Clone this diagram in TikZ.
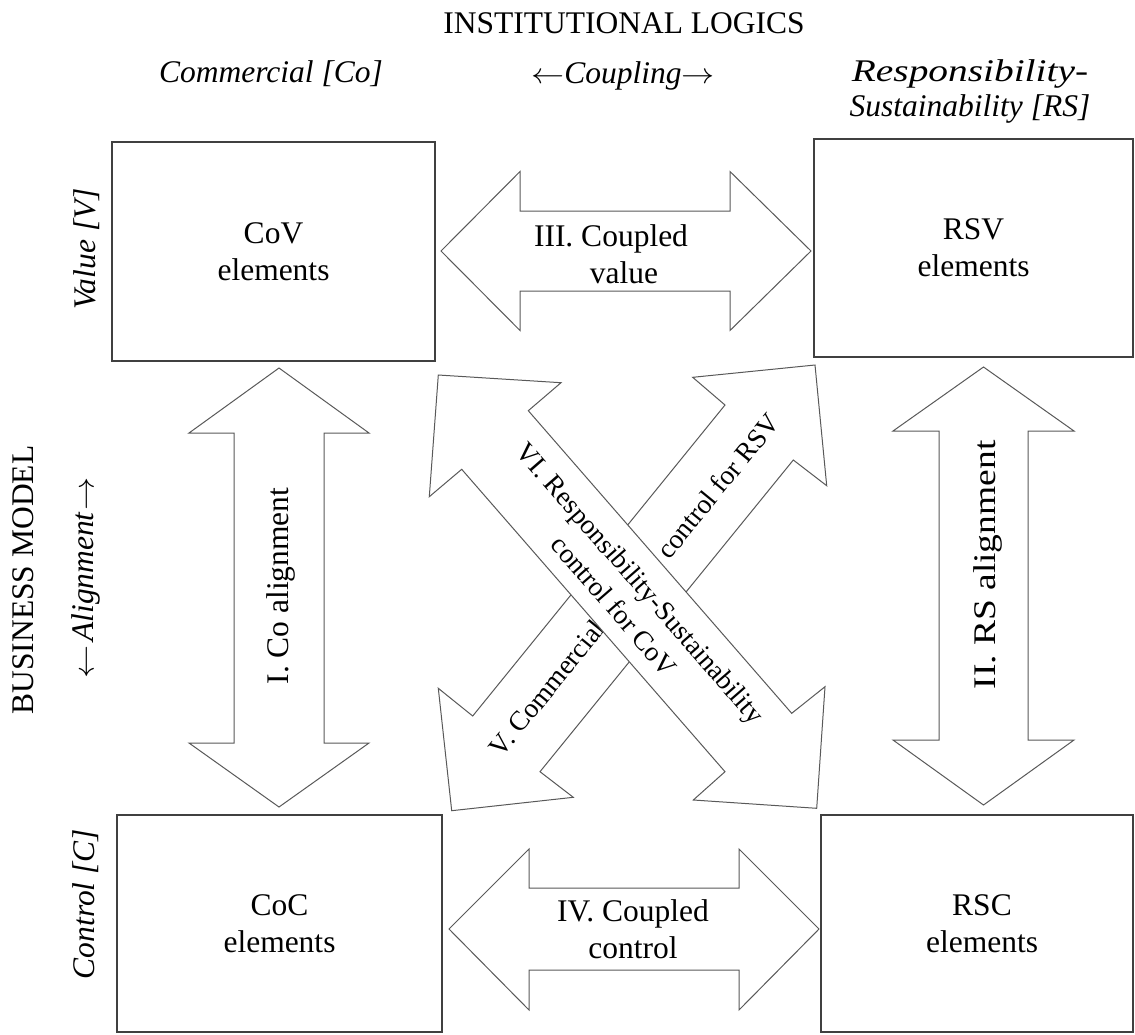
\documentclass[tikz,border=0pt]{standalone}
\usepackage{fontspec}
\setmainfont{Liberation Serif}
\usepackage{graphicx}
\newcommand{\larr}{\scalebox{1.15}[1]{$\leftarrow$}}
\newcommand{\rarr}{\scalebox{1.15}[1]{$\rightarrow$}}
\begin{document}
\begin{tikzpicture}[x=0.5pt,y=-0.5pt,
  box/.style={draw=black!75, line width=0.75pt, fill=white, inner sep=0pt,
    align=center, font=\fontsize{15.75pt}{18.5pt}\selectfont},
  blockarrow/.style={draw=black!65, line width=0.5pt, fill=white, line join=miter},
  lbl/.style={font=\fontsize{15.75pt}{18.5pt}\selectfont, align=center, inner sep=0pt},
  ital/.style={font=\fontsize{15.75pt}{17.5pt}\selectfont\itshape, align=center, inner sep=0pt},
  diag/.style={font=\fontsize{13.75pt}{17.5pt}\selectfont, align=center, inner sep=0pt},
]
\useasboundingbox (0,0) rectangle (1135,1034);

% headings
\node[lbl] (inst) at (624,23) {INSTITUTIONAL LOGICS};
\node[ital] (co) at (271,73.4) {Commercial [Co]};
\node[ital] (coup) at (623,76) {\larr Coupling\rarr};
\node[ital] (rs) at (970,91) {\scalebox{1.25}[1]{Responsibility-}\\Sustainability [RS]};

\node[lbl, rotate=90] (bm) at (23,580) {BUSINESS MODEL};
\node[ital, rotate=90] (val) at (87,249) {Value [V]};
\node[ital, rotate=90] (al) at (86,578) {\larr\kern2pt Alignment\kern1pt\rarr};
\node[ital, rotate=90] (ctl) at (86,904) {Control [C]};

% the four element boxes
\node[box, minimum width=161.5pt, minimum height=109.5pt] (cov) at (273.5,251.5) {CoV\\elements};
\node[box, minimum width=159.5pt, minimum height=109pt] (rsv) at (973.5,248) {RSV\\elements};
\node[box, minimum width=162.5pt, minimum height=108.5pt] (coc) at (279.5,923.5) {CoC\\elements};
\node[box, minimum width=156pt, minimum height=108.5pt, text width=150pt] (rsc) at (977,923.5) {\hspace*{5pt}RSC\\\hspace*{5pt}elements};

% I. vertical double arrow, left
\draw[blockarrow] (279,368) -- (369,433) -- (324,433) -- (324,743) -- (369,743)
  -- (279,807) -- (189,743) -- (234,743) -- (234,433) -- (189,433) -- cycle;
\node[lbl, rotate=90] (t1) at (281,586) {I. Co alignment};

% II. vertical double arrow, right
\draw[blockarrow] (983.5,367) -- (1074,431) -- (1028,431) -- (1028,740) -- (1074,740)
  -- (983.5,805) -- (893,740) -- (939,740) -- (939,431) -- (893,431) -- cycle;
\node[lbl, rotate=90] (t2) at (988,565) {\scalebox{1.19}[1]{II. RS alignment}};

% III. horizontal double arrow, top
\draw[blockarrow] (441,251) -- (520,171.5) -- (520,211) -- (730,211) -- (730,171.5)
  -- (811,251) -- (730,330.5) -- (730,291) -- (520,291) -- (520,330.5) -- cycle;
\node[lbl] (t3) at (624,254) {III. Coupled\rule{13pt}{0pt}\\value};

% IV. horizontal double arrow, bottom
\draw[blockarrow] (449,929) -- (529,849) -- (529,888) -- (739,888) -- (739,849)
  -- (819,929) -- (739,1010) -- (739,970) -- (529,970) -- (529,1010) -- cycle;
\node[lbl] (t4) at (633,929) {IV. Coupled\\control};

% V. diagonal arrow, lower left to upper right
\draw[blockarrow] (451.7,810.7) -- (438.3,688.3) -- (472.7,716) -- (725,405)
  -- (692.7,377.3) -- (815,365) -- (826.7,485.7) -- (793.3,460) -- (540,771.7)
  -- (573.3,797.3) -- cycle;
\node[diag, rotate=50.8] (t5a) at (547,688) {V. Commercial};
\node[diag, rotate=50.8] (t5b) at (718,486) {control for RSV};

% VI. diagonal arrow, upper left to lower right (on top)
\draw[blockarrow] (438.3,375) -- (561,382.7) -- (528.3,410.7) -- (791.7,713.3)
  -- (825,686.7) -- (816.7,808.3) -- (693.3,800) -- (725,771.7) -- (461.7,469.3)
  -- (429.3,496.7) -- cycle;
\node[diag, rotate=-48.9] (t6) at (627.5,594.5) {VI. Responsibility-Sustainability\\control for CoV};
\end{tikzpicture}
\end{document}
